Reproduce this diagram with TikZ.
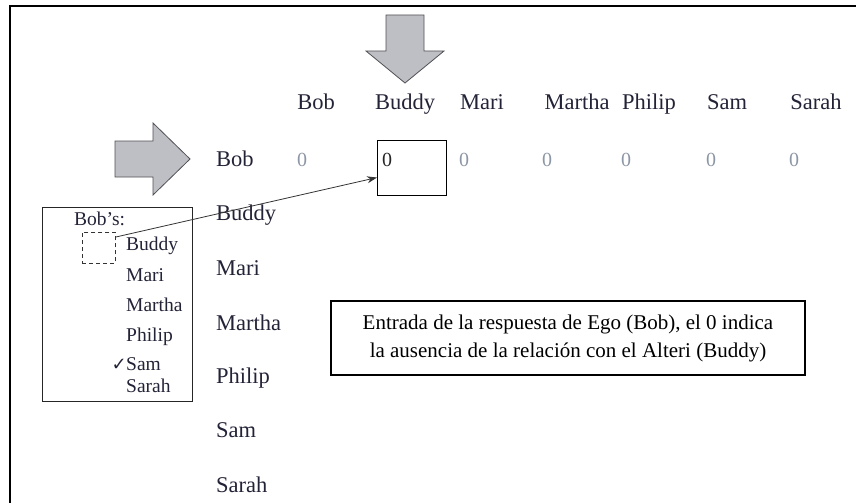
\documentclass[tikz,border=0pt]{standalone}
\usepackage{fontspec}
\setmainfont{Liberation Serif}
\newfontfamily\symfont{DejaVu Sans}
\usetikzlibrary{arrows.meta}

\definecolor{arrowgray}{RGB}{190,191,196}
\definecolor{edgegray}{RGB}{80,80,85}
\definecolor{zerogray}{RGB}{140,150,165}
\definecolor{namecol}{RGB}{35,35,55}

\tikzstyle{hdr} = [inner sep=0pt, anchor=base, text=namecol, font=\fontsize{22.5}{26}\selectfont]
\tikzstyle{rowlbl} = [inner sep=0pt, anchor=base west, text=namecol, font=\fontsize{22.5}{26}\selectfont]
\tikzstyle{zro} = [inner sep=0pt, anchor=base, text=zerogray, font=\fontsize{20}{24}\selectfont]
\tikzstyle{listitem} = [inner sep=0pt, anchor=base west, text=namecol, font=\fontsize{19.5}{22}\selectfont]
\tikzstyle{blockarrow} = [fill=arrowgray, draw=edgegray, line width=0.8pt, line join=miter]
\tikzstyle{arrow} = [line width=0.8pt, draw=black!80, -{Stealth[length=10pt,width=7pt]}]

\begin{document}
\begin{tikzpicture}[x=1pt,y=-1pt]
    \useasboundingbox (0,0) rectangle (856,503);
    \draw[line width=2pt] (856,6) -- (10,6) -- (10,503);
    \draw[blockarrow] (386,15) -- (424,15) -- (424,51) -- (444,51) -- (405,83) -- (366,51) -- (386,51) -- cycle;
    \draw[blockarrow] (115,141) -- (153,141) -- (153,123) -- (190,159) -- (153,195) -- (153,177) -- (115,177) -- cycle;
    \node[hdr] (cBob) at (316,109) {Bob};
    \node[hdr] (cBuddy) at (405,109) {Buddy};
    \node[hdr] (cMari) at (482,109) {Mari};
    \node[hdr] (cMartha) at (577,109) {Martha};
    \node[hdr] (cPhilip) at (649,109) {Philip};
    \node[hdr] (cSam) at (727,109) {Sam};
    \node[hdr] (cSarah) at (816,109) {Sarah};
    \node[rowlbl] (rBob) at (216,166) {Bob};
    \node[rowlbl] (rBuddy) at (216,220) {Buddy};
    \node[rowlbl] (rMari) at (216,275) {Mari};
    \node[rowlbl] (rMartha) at (216,330) {Martha};
    \node[rowlbl] (rPhilip) at (216,383) {Philip};
    \node[rowlbl] (rSam) at (216,437) {Sam};
    \node[rowlbl] (rSarah) at (216,492) {Sarah};
    \node[zro] (zBob) at (302,166) {0};
    \node[zro, text=black!85] (zBuddy) at (387,166) {0};
    \node[zro] (zMari) at (464,166) {0};
    \node[zro] (zMartha) at (547,166) {0};
    \node[zro] (zPhilip) at (626,166) {0};
    \node[zro] (zSam) at (711,166) {0};
    \node[zro] (zSarah) at (794,166) {0};
    \node[draw, line width=1.1pt, anchor=north west, inner sep=0pt, minimum width=69pt, minimum height=55pt] (zbox) at (377,140) {};
    \node[draw=black!85, line width=1.2pt, anchor=north west, inner sep=0pt, minimum width=150pt, minimum height=194pt] (bobs) at (42,207) {};
    \node[listitem] (lHead) at (74,225) {Bob’s:};
    \node[draw=black!80, dashed, dash pattern=on 4pt off 3pt, line width=0.9pt, anchor=north west, inner sep=0pt, minimum width=33pt, minimum height=31pt] (dsh) at (82,232) {};
    \node[listitem] (lBuddy) at (126,250) {Buddy};
    \node[listitem] (lMari) at (126,281) {Mari};
    \node[listitem] (lMartha) at (126,311) {Martha};
    \node[listitem] (lPhilip) at (126,341) {Philip};
    \node[listitem] (lSam) at (126,370) {Sam};
    \node[listitem] (lSarah) at (126,392) {Sarah};
    \node[inner sep=0pt, anchor=base east, text=namecol, font=\symfont\fontsize{18}{20}\selectfont] (chk) at ([xshift=1pt]lSam.base west) {✓};
    \node[draw, line width=1.5pt, align=center, minimum width=474pt, minimum height=74pt, font=\fontsize{21}{28}\selectfont] (note) at (568,338)
    {Entrada de la respuesta de Ego (Bob), el 0 indica\\la ausencia de la relación con el Alteri (Buddy)};
    \draw[arrow] ([yshift=-5pt]dsh.north east) -- ([yshift=-9.5pt]zbox.west);
\end{tikzpicture}
\end{document}
